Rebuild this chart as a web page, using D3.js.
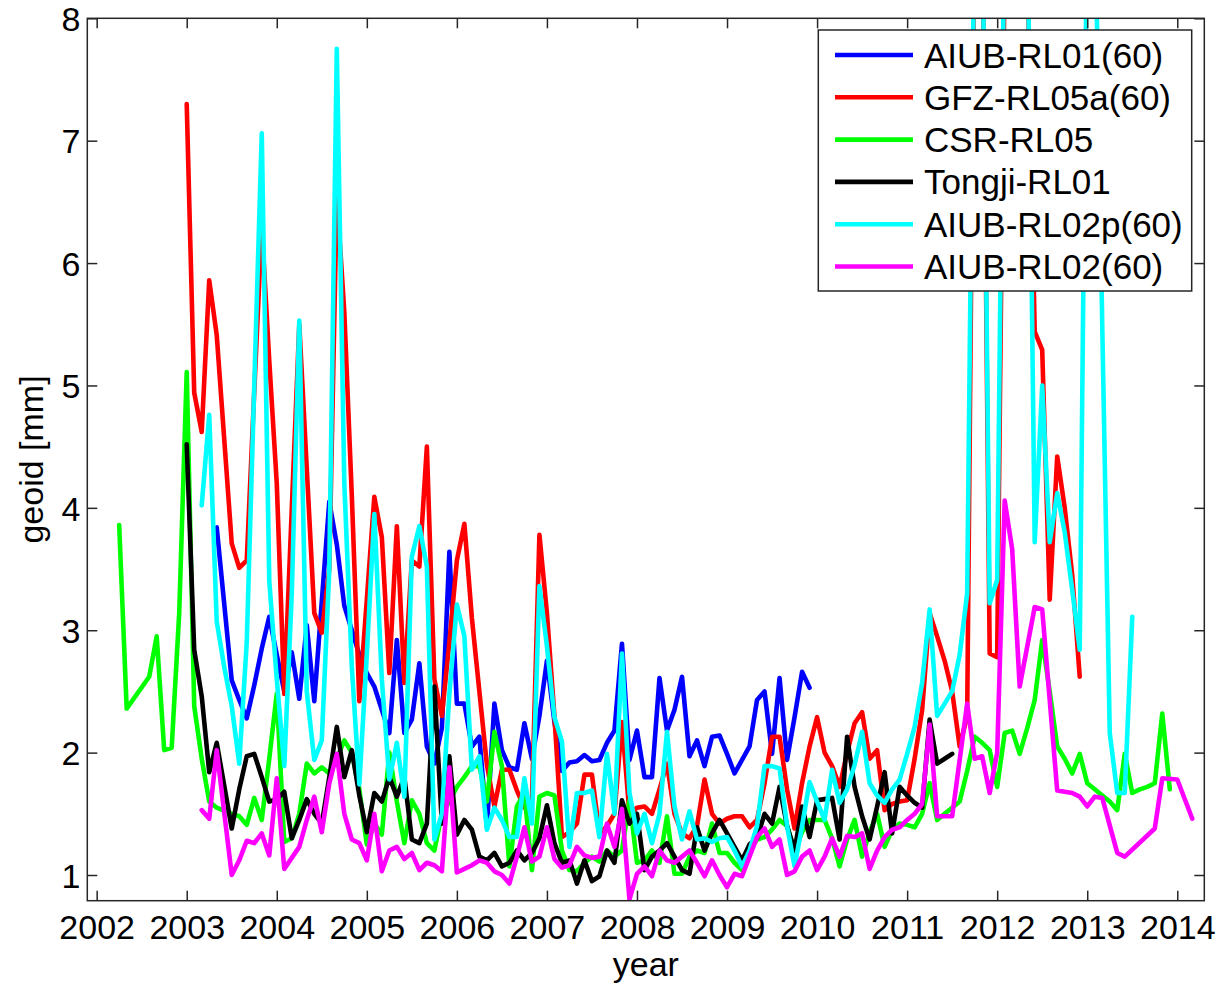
<!DOCTYPE html>
<html><head><meta charset="utf-8">
<script src="https://cdn.jsdelivr.net/npm/d3@7"></script>
<style>
body{margin:0;background:#fff}
svg{display:block}
text{font-family:"Liberation Sans",Arial,Helvetica,sans-serif;fill:#000}
</style>
</head><body>
<svg id="chart" width="1219" height="984"></svg>
<script>
// ---------------- data ----------------
const xTicks = [2002,2003,2004,2005,2006,2007,2008,2009,2010,2011,2012,2013,2014];
const yTicks = [1,2,3,4,5,6,7,8];
const seriesNames = ["AIUB-RL01(60)","GFZ-RL05a(60)","CSR-RL05","Tongji-RL01","AIUB-RL02p(60)","AIUB-RL02(60)"];
const seriesColors = ["#0000ff","#ff0000","#00ff00","#000000","#00ffff","#ff00ff"];

// monthly values (null = month missing); first value belongs to the start month
const aiub01Start = 2003 + 4/12;
const aiub01Values = [3.84,null,2.59,2.43,2.28,2.55,2.85,3.11,2.8,2.5,2.82,2.44,3.04,2.42,null,4.05,3.7,3.2,3.0,2.8,
 2.65,2.54,2.35,2.16,2.92,2.16,2.27,2.73,2.05,1.91,2.2,3.64,2.40,2.40,2.05,2.13,1.39,2.40,2.02,1.88,
 1.86,2.24,1.95,2.3,2.75,2.25,1.85,1.92,1.93,1.98,1.93,1.94,2.08,2.18,2.89,1.94,2.18,1.80,1.80,2.61,
 2.18,2.35,2.62,1.97,2.10,1.89,2.13,2.14,1.99,1.83,1.94,2.05,2.43,2.50,1.99,2.61,1.94,2.29,2.66,2.53];

const gfzStart = 2003;
const gfzValues = [7.30,4.94,4.62,5.86,5.41,null,3.71,3.51,3.57,4.95,6.30,5.2,4.2,2.48,null,5.5,null,3.14,2.98,3.5,
 6.56,5.6,4.1,2.42,3.25,4.09,3.76,2.65,3.85,2.57,3.57,3.52,4.5,2.6,2.3,2.9,3.57,3.87,3.1,2.5,
 1.9,1.56,1.86,1.86,1.69,1.55,1.6,3.78,3.14,2.3,1.31,1.35,1.42,1.82,1.82,1.34,1.4,1.5,2.25,1.5,
 1.55,1.56,1.5,1.7,1.91,1.5,1.34,1.3,1.4,1.78,1.5,1.42,1.46,1.48,1.48,1.39,1.45,1.75,2.13,2.13,
 1.7,1.38,1.75,2.05,2.29,2.0,1.89,1.72,2.0,2.24,2.33,1.95,2.02,1.53,1.58,1.6,1.61,1.95,2.35,3.14,
 2.95,2.75,2.5,2.05,2.3,9,9,2.81,2.78,8.5,10,10,8.5,5.44,5.29,3.25,4.42,4.0,3.45,2.62];

const csrStart = 2002 + 3/12;
const csrValues = [3.86,2.36,null,null,2.62,2.95,2.02,2.04,3.14,
 5.11,2.38,1.95,1.6,1.55,null,1.5,1.48,1.41,1.63,1.45,1.95,2.48,1.27,1.3,1.5,1.91,1.83,1.88,1.83,
 1.95,2.1,2.0,1.7,1.25,1.42,1.33,2.0,1.6,1.26,1.61,1.5,1.26,1.2,1.5,1.6,1.72,1.8,1.89,1.89,
 1.6,2.17,1.89,1.07,1.56,1.67,1.04,1.64,1.67,1.65,1.2,1.04,1.03,1.1,1.15,1.11,1.2,1.15,1.2,1.61,
 1.1,1.12,1.2,1.1,1.48,1.01,1.01,1.15,1.2,1.18,1.42,1.18,1.18,1.1,1.04,1.2,1.29,1.31,1.37,1.45,
 1.4,1.2,1.35,1.45,1.45,1.45,1.3,1.07,1.29,1.45,1.15,1.35,1.5,1.23,1.37,1.42,1.41,1.39,1.5,1.75,
 1.45,1.5,1.55,1.6,1.85,2.13,2.08,2.02,1.72,2.16,2.18,1.99,2.2,2.43,2.92,2.5,2.05,1.95,1.83,1.99,
 1.75,1.7,1.65,1.6,1.53,1.99,1.67,1.7,1.72,1.75,2.32,1.7];

const tongjiStart = 2003;
const tongjiValues = [4.52,2.84,2.46,1.84,2.08,null,1.38,1.7,1.97,1.99,1.8,1.6,1.62,1.68,1.3,1.45,1.62,1.5,1.42,1.8,
 2.21,1.8,2.02,1.65,1.35,1.67,1.6,1.8,1.64,1.8,1.29,1.26,1.42,2.54,1.42,1.97,1.33,1.45,1.37,1.15,
 1.12,1.18,1.07,1.1,1.2,1.12,1.18,1.3,1.57,1.26,1.1,1.12,0.93,1.12,0.95,0.99,1.2,1.1,1.61,1.42,
 1.5,1.04,1.15,1.2,1.26,1.15,1.04,1.01,1.39,1.2,1.34,1.45,1.34,1.23,1.12,1.25,1.3,1.5,1.42,1.72,
 1.4,1.2,1.56,1.31,1.61,1.62,1.63,1.29,2.13,1.72,1.48,1.29,1.56,1.84,1.34,1.72,1.65,1.59,1.55,2.27,
 1.91,1.95,1.99];

const aiub02pStart = 2003 + 2/12;
const aiub02pValues = [4.02,4.76,3.07,2.7,2.38,1.91,2.9,5.0,7.06,3.4,2.6,1.89,3.3,5.53,2.5,1.94,2.1,3.5,
 7.75,4.2,2.7,1.74,2.8,3.95,2.6,1.78,2.08,1.64,3.6,3.85,3.52,1.29,1.5,2.48,3.21,2.95,1.86,1.97,
 1.37,1.55,1.45,1.31,1.31,1.79,1.42,3.36,2.87,2.29,2.09,1.23,1.67,1.67,1.69,1.31,1.99,1.5,2.81,1.67,
 1.34,1.5,1.26,1.5,2.17,1.56,1.29,1.52,1.29,1.3,1.27,1.3,1.31,1.2,1.07,1.2,1.4,1.89,1.89,1.87,
 1.4,1.07,1.4,1.76,1.6,1.45,1.86,1.59,1.7,1.9,2.17,1.75,1.65,1.59,1.7,1.78,1.99,2.21,2.57,3.17,
 2.3,2.4,2.5,2.8,3.3,9,9,3.22,3.41,9,10,10,9,3.72,5.0,3.72,4.12,3.8,3.33,2.84,
 9,9,5.5,2.16,1.67,1.67,3.11];

const aiub02Start = 2003 + 2/12;
const aiub02Values = [1.53,1.46,2.02,null,1.0,1.12,1.28,1.26,1.34,1.16,1.79,1.05,1.14,1.23,1.45,1.64,1.35,1.75,
 1.99,1.5,1.29,1.26,1.12,1.5,1.03,1.2,1.23,1.13,1.18,1.04,1.1,1.08,1.03,1.88,1.02,1.05,1.08,1.12,
 1.1,1.03,1.0,0.93,1.15,1.39,1.11,1.15,1.39,1.13,1.06,1.08,1.23,1.16,1.14,1.15,1.42,1.23,1.54,0.8,
 1.01,1.07,0.99,1.2,1.12,1.1,1.15,1.2,1.1,0.99,1.12,1.0,0.9,1.01,0.99,1.15,1.31,1.38,1.23,1.29,
 1.0,1.03,1.15,1.2,1.04,1.15,1.3,1.15,1.32,1.31,1.34,1.05,1.2,1.31,1.37,1.39,1.45,1.5,1.58,2.23,
 1.48,1.48,1.48,null,2.4,1.95,1.97,1.67,2.0,4.06,3.66,2.54,null,3.19,3.17,null,1.69,1.68,1.67,1.64,
 1.56,1.64,1.63,null,1.18,1.15,null,null,null,1.38,1.79,null,1.78,null,1.46];

const seriesStarts = [aiub01Start,gfzStart,csrStart,tongjiStart,aiub02pStart,aiub02Start];
const seriesValues = [aiub01Values,gfzValues,csrValues,tongjiValues,aiub02pValues,aiub02Values];

// ---------------- layout ----------------
const svg = d3.select("#chart");
const L = 87.3, R = 1204.3, T = 18.3, B = 900.7;
const x = d3.scaleLinear().domain([2001.896, 2014.30]).range([L, R]);
const y = d3.scaleLinear().domain([0.79, 8]).range([B, T]);
const axisColor = "#262626";
const fontSize = 34;

svg.append("rect").attr("width",1219).attr("height",984).attr("fill","#fff");

svg.append("defs").append("clipPath").attr("id","plotclip")
  .append("rect").attr("x",L).attr("y",T).attr("width",R-L).attr("height",B-T);

// data lines
const line = d3.line().x(d => x(d.t)).y(d => y(d.v));
const plot = svg.append("g").attr("clip-path","url(#plotclip)");
seriesValues.forEach((vals, i) => {
  const pts = vals.map((v, k) => ({t: seriesStarts[i] + k/12, v}))
                  .filter(d => d.v !== null);
  plot.append("path").datum(pts)
    .attr("d", line)
    .attr("fill","none")
    .attr("stroke", seriesColors[i])
    .attr("stroke-width", 4.6)
    .attr("stroke-linejoin","round")
    .attr("stroke-linecap","round");
});

// axes (ticks inward)
function styleAxis(g){
  g.select(".domain").remove();
  g.selectAll(".tick line").attr("stroke",axisColor).attr("stroke-width",1.5);
  g.selectAll("text").attr("font-size",fontSize)
    .attr("font-family",'"Liberation Sans",Arial,Helvetica,sans-serif').attr("fill","#000");
}
svg.append("g").attr("transform",`translate(0,${B})`)
  .call(d3.axisBottom(x).tickValues(xTicks).tickFormat(d3.format("d")).tickSizeInner(-10).tickSizeOuter(0).tickPadding(14))
  .call(styleAxis);
svg.append("g").attr("transform",`translate(0,${T})`)
  .call(d3.axisTop(x).tickValues(xTicks).tickFormat("").tickSizeInner(-10).tickSizeOuter(0))
  .call(styleAxis);
svg.append("g").attr("transform",`translate(${L},0)`)
  .call(d3.axisLeft(y).tickValues(yTicks).tickFormat(d3.format("d")).tickSizeInner(-10).tickSizeOuter(0).tickPadding(7))
  .call(styleAxis)
  .call(g => g.selectAll("text").attr("dy","0.36em"));
svg.append("g").attr("transform",`translate(${R},0)`)
  .call(d3.axisRight(y).tickValues(yTicks).tickFormat("").tickSizeInner(-10).tickSizeOuter(0))
  .call(styleAxis);

// axes box
svg.append("rect").attr("x",L).attr("y",T).attr("width",R-L).attr("height",B-T)
  .attr("fill","none").attr("stroke",axisColor).attr("stroke-width",1.5);

// axis labels
svg.append("text").attr("x",(L+R)/2).attr("y",976).attr("text-anchor","middle")
  .attr("font-size",fontSize).text("year");
svg.append("text").attr("transform",`translate(43,${(T+B)/2}) rotate(-90)`).attr("text-anchor","middle")
  .attr("font-size",fontSize).text("geoid [mm]");

// legend
const lg = svg.append("g");
const lgX = 818.3, lgY = 30, lgW = 373.4, lgH = 261, rowH = 42.3, row0 = 55;
lg.append("rect").attr("x",lgX).attr("y",lgY).attr("width",lgW).attr("height",lgH)
  .attr("fill","#fff").attr("stroke",axisColor).attr("stroke-width",1.5);
seriesNames.forEach((name, i) => {
  const ry = row0 + i*rowH;
  lg.append("line").attr("x1",835).attr("x2",913).attr("y1",ry).attr("y2",ry)
    .attr("stroke",seriesColors[i]).attr("stroke-width",4.6);
  lg.append("text").attr("x",924).attr("y",ry+12.5).attr("font-size",35).text(name);
});
</script>
</body></html>
